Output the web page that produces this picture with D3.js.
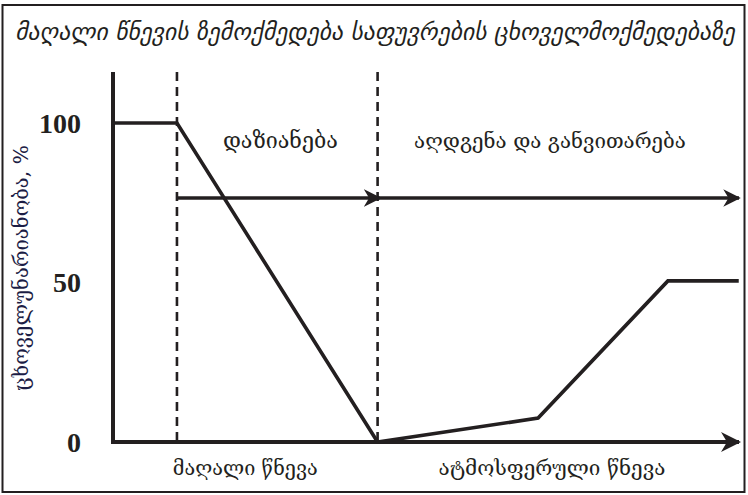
<!DOCTYPE html>
<html><head><meta charset="utf-8">
<script src="https://cdn.jsdelivr.net/npm/d3@7"></script>
<style>body{margin:0;background:#fff}svg{display:block}</style>
</head><body>
<svg id="c" width="748" height="495"></svg>
<script>
// ---- data ----
const titleText = "მაღალი წნევის ზემოქმედება საფუვრების ცხოველმოქმედებაზე";
const yLabel = "ცხოველუნარიანობა, %";
const yTicks = [0, 50, 100];
const curveX = [0, 1.02, 4.22, 6.78, 8.85, 9.98];
const curveY = [100, 100, 0, 7.5, 50.5, 50.5];
const phaseBounds = [1.02, 4.22];           // dashed separators
const phaseLabels = ["დაზიანება", "აღდგენა და განვითარება"];
const phaseLabelX = [2.67, 6.97];
const pressureLabels = ["მაღალი წნევა", "ატმოსფერული წნევა"];
const pressureLabelX = [2.11, 7.0];

const ink = "#231f20";
const svg = d3.select("#c");
const x = d3.scaleLinear().domain([0, 10]).range([113, 740]);
const y = d3.scaleLinear().domain([0, 100]).range([442, 123]);

function fit(sel, w) {
  const fs = +sel.attr("font-size");
  const cw = sel.node().getComputedTextLength();
  sel.attr("font-size", fs * w / cw);
}

// frame
svg.append("rect").attr("x", 2.5).attr("y", 5).attr("width", 742).attr("height", 487)
  .attr("fill", "none").attr("stroke", ink).attr("stroke-width", 2);

// title
const t = svg.append("text").attr("x", 375).attr("y", 40).attr("text-anchor", "middle")
  .attr("font-family", "DejaVu Sans").attr("font-style", "italic").attr("font-size", 22)
  .attr("fill", ink).text(titleText);
fit(t, 720);

// markers
const defs = svg.append("defs");
defs.append("marker").attr("id", "ah").attr("viewBox", "0 0 10 10").attr("refX", 9).attr("refY", 5)
  .attr("markerWidth", 5).attr("markerHeight", 5).attr("markerUnits", "strokeWidth").attr("orient", "auto")
  .append("path").attr("d", "M0,0 L10,5 L0,10 L3,5 Z").attr("fill", ink);

// dashed separators
phaseBounds.forEach(v => {
  svg.append("line").attr("x1", x(v)).attr("x2", x(v)).attr("y1", 72).attr("y2", y(0))
    .attr("stroke", ink).attr("stroke-width", 2.6).attr("stroke-dasharray", "9,6");
});

// y axis (line only)
svg.append("line").attr("x1", x(0)).attr("x2", x(0)).attr("y1", 72).attr("y2", y(0) + 2)
  .attr("stroke", ink).attr("stroke-width", 4);
// x axis arrow
svg.append("line").attr("x1", x(0) - 2).attr("x2", 739).attr("y1", y(0)).attr("y2", y(0))
  .attr("stroke", ink).attr("stroke-width", 4).attr("marker-end", "url(#ah)");

// phase arrows
const arrowY = 198;
svg.append("line").attr("x1", x(phaseBounds[0])).attr("x2", x(phaseBounds[1]) + 2).attr("y1", arrowY).attr("y2", arrowY)
  .attr("stroke", ink).attr("stroke-width", 3.5).attr("marker-end", "url(#ah)");
svg.append("line").attr("x1", x(phaseBounds[1])).attr("x2", 739).attr("y1", arrowY).attr("y2", arrowY)
  .attr("stroke", ink).attr("stroke-width", 3.5).attr("marker-end", "url(#ah)");

// curve
const pts = curveX.map((v, i) => [v, curveY[i]]);
svg.append("path").datum(pts)
  .attr("d", d3.line().x(d => x(d[0])).y(d => y(d[1])))
  .attr("fill", "none").attr("stroke", ink).attr("stroke-width", 3.6).attr("stroke-linejoin", "miter");

// y tick labels
svg.selectAll("text.yt").data(yTicks).join("text").attr("class", "yt")
  .attr("x", 81).attr("y", d => y(d)).attr("dy", "0.35em").attr("text-anchor", "end")
  .attr("font-family", "Liberation Serif").attr("font-weight", "bold").attr("font-size", 28)
  .attr("fill", ink).text(d => d);

// y label
const yl = svg.append("text").attr("transform", "translate(28,268) rotate(-90)").attr("text-anchor", "middle")
  .attr("font-family", "DejaVu Serif").attr("font-size", 16).attr("fill", "#1c1d45").text(yLabel);
fit(yl, 246);

// phase labels
const phaseW = [115, 272];
svg.selectAll("text.pl").data(phaseLabels).join("text").attr("class", "pl")
  .attr("x", (d, i) => x(phaseLabelX[i])).attr("y", 148).attr("text-anchor", "middle")
  .attr("font-family", "DejaVu Serif").attr("font-size", 17).attr("fill", ink).text(d => d)
  .each(function (d, i) { fit(d3.select(this), phaseW[i]); });

// pressure labels
const pressW = [145, 227];
svg.selectAll("text.pr").data(pressureLabels).join("text").attr("class", "pr")
  .attr("x", (d, i) => x(pressureLabelX[i])).attr("y", 475).attr("text-anchor", "middle")
  .attr("font-family", "DejaVu Serif").attr("font-size", 17).attr("fill", ink).text(d => d)
  .each(function (d, i) { fit(d3.select(this), pressW[i]); });
</script>
</body></html>
